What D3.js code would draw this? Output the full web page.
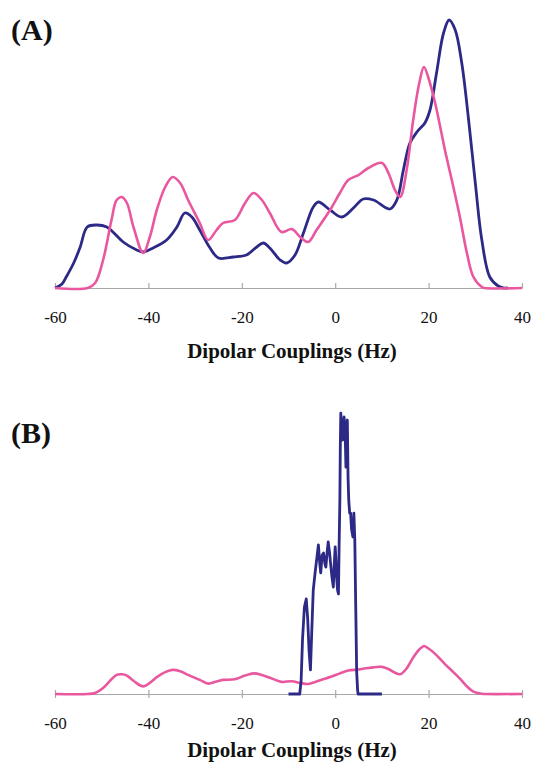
<!DOCTYPE html>
<html>
<head>
<meta charset="utf-8">
<script src="https://cdn.jsdelivr.net/npm/d3@7"></script>
<style>
  html, body { margin: 0; padding: 0; background: #fff; }
  svg { display: block; }
</style>
</head>
<body>
<svg id="chart" width="533" height="763"></svg>
<script>
// ---- Data (x = dipolar coupling in Hz, y = intensity, arbitrary units) ----
const xTicks = [-60, -40, -20, 0, 20, 40];
const xTickLabels = ["-60", "-40", "-20", "0", "20", "40"];
const axisTitle = "Dipolar Couplings (Hz)";
const panelLabels = ["(A)", "(B)"];

// Panel A, blue distribution
const blueA = [
  [-60,0],[-58.5,4],[-57.6,11],[-56,25],[-54.6,41],[-53.1,61],[-51.1,63],[-48.9,61],
  [-47.6,56],[-45.4,46],[-42.5,38],[-41.1,36],[-39,40],[-36.1,48],[-33.9,61],[-32.2,75],
  [-30.7,71],[-29,58],[-26.8,40],[-25,30],[-21.8,31],[-19,33],[-16.8,41],[-15.4,45],
  [-14,40],[-11.8,28],[-10.4,25],[-8.6,33],[-6.8,55],[-4.7,81],[-3.6,86],[-1.1,78],
  [1.4,71],[3.9,80],[6.0,89],[8.2,88],[11.7,79],[13.2,88],[14.6,118],[16.0,145],
  [17.5,156],[19.2,165],[20.3,178],[21.7,215],[23.2,255],[24.4,268],[25.7,258],[27.1,225],
  [28.5,171],[30,105],[31.4,48],[33.1,11],[34.9,2],[36,0],[37,0]
];

// Pink distribution (same in both panels)
const pink = [
  [-60,0],[-53,0],[-51.4,5],[-49.7,28],[-47.9,68],[-46.8,88],[-45.7,91],[-44.6,85],
  [-43.2,61],[-41.1,35],[-39.7,51],[-38.2,78],[-36.4,101],[-34.8,111],[-33.2,105],[-31.5,88],
  [-29,65],[-27.2,48],[-25.4,58],[-24,65],[-21.5,68],[-19.3,85],[-17.5,95],[-15.7,88],
  [-14,75],[-11.5,56],[-9.3,59],[-7.5,51],[-5.8,46],[-4,58],[-1.1,78],[1.0,95],
  [2.8,108],[5.0,113],[7.1,120],[10,125],[11.4,115],[12.8,98],[13.9,91],[15.3,118],
  [16.7,168],[18.0,205],[19.0,221],[19.9,211],[21.4,185],[23.5,138],[25.3,101],[26.7,71],
  [28.2,35],[29.6,11],[31.4,1],[32,0],[40,0]
];

// Panel B, blue (narrow, noisy) distribution
const blueB = [
  [-10,0],[-7.6,0],[-7.3,60],[-7.0,250],[-6.6,400],[-6.2,438],[-5.9,350],[-5.6,200],
  [-5.3,111],[-5.0,300],[-4.7,479],[-4.3,560],[-3.9,632],[-3.6,687],[-3.3,600],[-3.1,558],
  [-2.8,640],[-2.5,650],[-2.2,600],[-2.0,585],[-1.7,660],[-1.5,701],[-1.2,650],[-1.0,604],
  [-0.7,540],[-0.4,493],[-0.2,600],[0,678],[0.2,600],[0.3,539],[0.5,480],[0.7,461],
  [0.85,700],[1.0,894],[1.1,1150],[1.2,1295],[1.4,1200],[1.6,1171],[1.75,1250],[1.9,1277],
  [2.1,1230],[2.3,1046],[2.45,1200],[2.6,1263],[2.75,1000],[2.9,894],[3.1,834],[3.3,834],
  [3.5,760],[3.8,724],[4.0,834],[4.2,710],[4.4,400],[4.6,100],[4.8,18],[4.9,0],[10,0]
];

// ---- Drawing ----
const BLUE = "#2c2a86";
const PINK = "#e9579f";
const svg = d3.select("#chart");
svg.append("rect").attr("width", 533).attr("height", 763).attr("fill", "#fff");

const x = d3.scaleLinear().domain([-60, 40]).range([55, 522]);
const yA = d3.scaleLinear().domain([0, 270]).range([288, 18]);
const yB = d3.scaleLinear().domain([0, 1300]).range([694, 412]);

function drawAxis(y0, tickUp) {
  const axis = d3.axisBottom(x).tickValues(xTicks).tickSizeOuter(0)
    .tickSizeInner(tickUp ? -5 : 4).tickPadding(tickUp ? 23 : 19)
    .tickFormat((d, i) => xTickLabels[i]);
  const g = svg.append("g").attr("transform", `translate(0,${y0})`).call(axis);
  g.select(".domain").attr("stroke", "#a8a8a8").attr("stroke-width", 1.2);
  g.selectAll(".tick line").attr("stroke", "#a8a8a8").attr("stroke-width", 1.2);
  if (!tickUp) g.selectAll(".tick line").attr("y1", -4);
  g.selectAll(".tick text")
    .attr("fill", "#111")
    .style("font-family", "'Liberation Serif', 'DejaVu Serif', serif")
    .style("font-size", "17px");
  return g;
}

function line(yScale, curve) {
  return d3.line().x(d => x(d[0])).y(d => yScale(d[1])).curve(curve);
}

function title(yBase) {
  svg.append("text").attr("x", 292).attr("y", yBase).attr("text-anchor", "middle")
    .style("font-family", "'Liberation Serif', 'DejaVu Serif', serif")
    .style("font-weight", "bold").style("font-size", "21px").attr("fill", "#111")
    .text(axisTitle);
}

function label(txt, yBase) {
  svg.append("text").attr("x", 11).attr("y", yBase)
    .style("font-family", "'Liberation Serif', 'DejaVu Serif', serif")
    .style("font-weight", "bold").style("font-size", "30px").attr("fill", "#111")
    .text(txt);
}

// Panel A
drawAxis(288, true);
svg.append("path").datum(blueA).attr("d", line(yA, d3.curveCatmullRom.alpha(0.5)))
  .attr("fill", "none").attr("stroke", BLUE).attr("stroke-width", 2.8).attr("stroke-linejoin", "round");
svg.append("path").datum(pink).attr("d", line(yA, d3.curveCatmullRom.alpha(0.5)))
  .attr("fill", "none").attr("stroke", PINK).attr("stroke-width", 2.6).attr("stroke-linejoin", "round");
title(358);
label(panelLabels[0], 40);

// Panel B
drawAxis(694, false);
svg.append("path").datum(pink).attr("d", line(yB, d3.curveCatmullRom.alpha(0.5)))
  .attr("fill", "none").attr("stroke", PINK).attr("stroke-width", 2.6).attr("stroke-linejoin", "round");
svg.append("path").datum(blueB).attr("d", line(yB, d3.curveLinear))
  .attr("fill", "none").attr("stroke", BLUE).attr("stroke-width", 2.8).attr("stroke-linejoin", "round");
title(757);
label(panelLabels[1], 443);
</script>
</body>
</html>
